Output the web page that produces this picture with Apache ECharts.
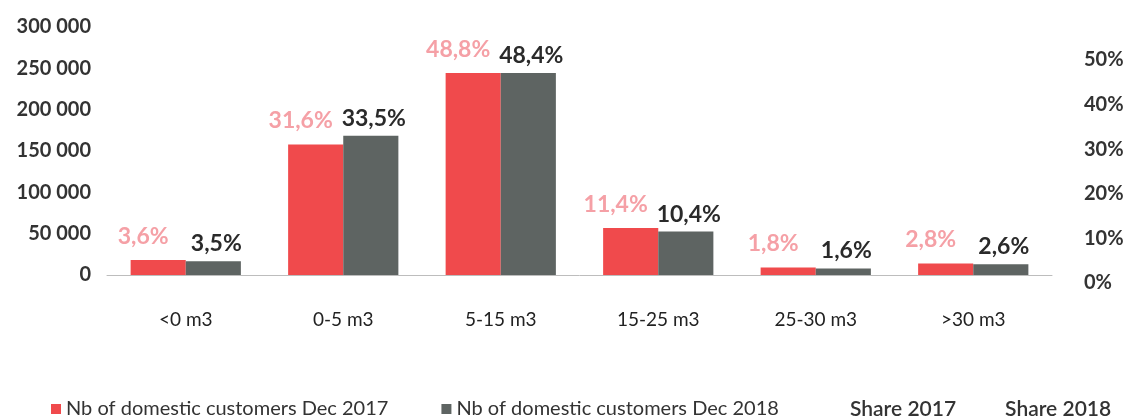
<!DOCTYPE html>
<html>
<head>
  <meta charset="utf-8">
  <title></title>
  <script src="https://cdn.jsdelivr.net/npm/echarts@6/dist/echarts.min.js"></script>
  <style>
    html, body { margin: 0; padding: 0; background: #fff; }
  </style>
</head>
<body>
  <div id="main" style="width:1132px;height:419px;"></div>
  <script type="text/javascript">
    var categories = ['<0 m3', '0-5 m3', '5-15 m3', '15-25 m3', '25-30 m3', '>30 m3'];
    var customers2017 = [18000, 158000, 244500, 57000, 9000, 14000];
    var customers2018 = [16500, 168500, 244500, 52500, 8000, 13000];
    var share2017 = [3.6, 31.6, 48.8, 11.4, 1.8, 2.8];
    var share2018 = [3.5, 33.5, 48.4, 10.4, 1.6, 2.6];

    var font = 'Lato, "Open Sans", sans-serif';

    function fmtThousands(v) {
      return String(v).replace(/\B(?=(\d{3})+(?!\d))/g, ' ');
    }
    function fmtShare(v) {
      return v.toFixed(1).replace('.', ',') + '%';
    }

    var myChart = echarts.init(document.getElementById('main'));

    var legendText = { fontFamily: font, fontSize: 20, color: '#333' };

    var option = {
      animation: false,
      textStyle: { fontFamily: font },
      grid: [
        { left: 107, right: 80, top: 27, bottom: 144 },
        { left: 107, right: 80, top: 60, bottom: 136 }
      ],
      legend: [{
        top: 394,
        left: 46,
        itemWidth: 10,
        itemHeight: 10,
        itemGap: 53,
        textStyle: legendText,
        data: [
          { name: 'Nb of domestic customers Dec 2017', icon: 'rect' },
          { name: 'Nb of domestic customers Dec 2018', icon: 'rect' }
        ]
      }, {
        top: 394,
        left: 840,
        itemWidth: 0,
        itemHeight: 10,
        itemGap: 44,
        textStyle: { fontFamily: font, fontSize: 21, color: '#333', fontWeight: 600 },
        data: [
          { name: 'Share 2017', icon: 'none' },
          { name: 'Share 2018', icon: 'none' }
        ]
      }],
      xAxis: [{
        gridIndex: 0,
        type: 'category',
        data: categories,
        axisLine: { lineStyle: { color: '#bdbdbd', width: 1 } },
        axisTick: { show: false },
        axisLabel: { margin: 35, fontSize: 19, color: '#222', fontFamily: font }
      }, {
        gridIndex: 1,
        type: 'category',
        data: categories,
        show: false
      }],
      yAxis: [{
        gridIndex: 0,
        type: 'value',
        min: 0,
        max: 300000,
        interval: 50000,
        splitLine: { show: false },
        axisLine: { show: false },
        axisTick: { show: false },
        axisLabel: {
          margin: 16,
          fontSize: 20,
          fontWeight: 'bold',
          color: '#333',
          fontFamily: font,
          formatter: fmtThousands
        }
      }, {
        gridIndex: 1,
        type: 'value',
        position: 'right',
        min: 0,
        max: 50,
        interval: 10,
        splitLine: { show: false },
        axisLine: { show: false },
        axisTick: { show: false },
        axisLabel: {
          margin: 32,
          fontSize: 20,
          fontWeight: 'bold',
          color: '#333',
          fontFamily: font,
          formatter: '{value}%'
        }
      }],
      series: [{
        name: 'Nb of domestic customers Dec 2017',
        type: 'bar',
        xAxisIndex: 0,
        yAxisIndex: 0,
        data: customers2017,
        barWidth: '35%',
        barGap: '0%',
        itemStyle: { color: '#f04a4c' },
        label: {
          show: true,
          position: 'top',
          distance: 12,
          offset: [-15, 0],
          fontSize: 23,
          fontWeight: 'bold',
          color: '#f5a0a6',
          fontFamily: font,
          formatter: function (p) { return fmtShare(share2017[p.dataIndex]); }
        }
      }, {
        name: 'Nb of domestic customers Dec 2018',
        type: 'bar',
        xAxisIndex: 0,
        yAxisIndex: 0,
        data: customers2018,
        barWidth: '35%',
        barGap: '0%',
        itemStyle: { color: '#5e6462' },
        label: {
          show: true,
          position: 'top',
          distance: 6,
          offset: [3, 0],
          fontSize: 23,
          fontWeight: 'bold',
          color: '#2a2a2a',
          fontFamily: font,
          formatter: function (p) { return fmtShare(share2018[p.dataIndex]); }
        }
      }, {
        name: 'Share 2017',
        type: 'line',
        xAxisIndex: 1,
        yAxisIndex: 1,
        data: share2017,
        showSymbol: false,
        itemStyle: { color: '#f5a0a6' },
        lineStyle: { opacity: 0 },
        silent: true
      }, {
        name: 'Share 2018',
        type: 'line',
        xAxisIndex: 1,
        yAxisIndex: 1,
        data: share2018,
        showSymbol: false,
        itemStyle: { color: '#2a2a2a' },
        lineStyle: { opacity: 0 },
        silent: true
      }]
    };
    myChart.setOption(option);
  </script>
</body>
</html>
